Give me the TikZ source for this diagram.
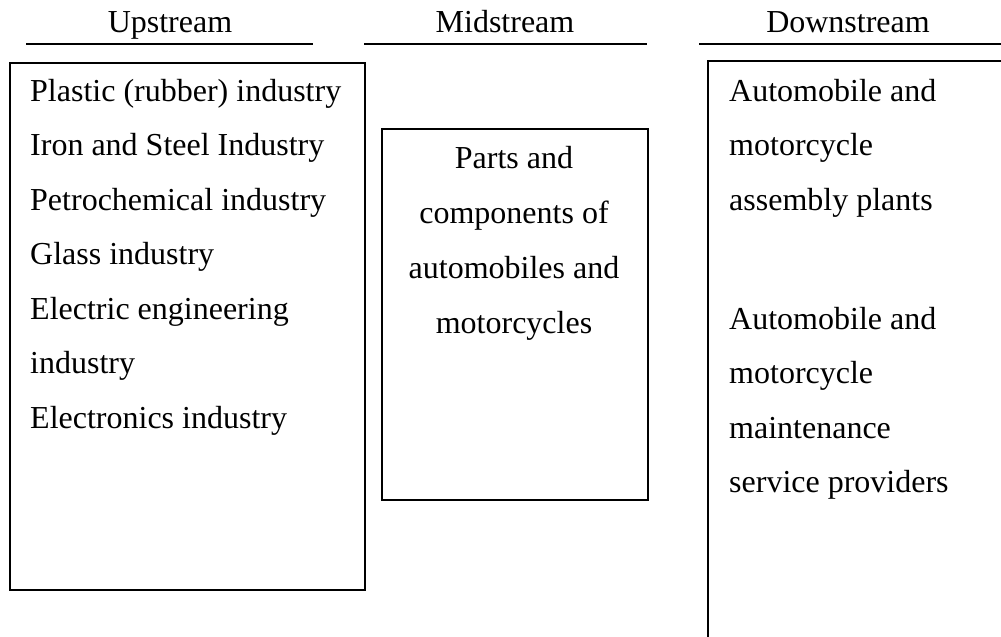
\documentclass[tikz,border=0pt]{standalone}
\usepackage{fontspec}
\setmainfont{Liberation Serif}
\begin{document}
\begin{tikzpicture}[x=1pt,y=-1pt,
  txt/.style={inner sep=0pt,font=\fontsize{32}{38}\selectfont},
  lt/.style={txt,anchor=base west},
  ct/.style={txt,anchor=base},
  hdrline/.style={line width=2pt},
  boxline/.style={line width=1.8pt}]
\useasboundingbox (0,0) rectangle (1001,637);
% headers
\node[ct] (hup) at (170,32) {Upstream};
\node[ct] (hmid) at (505,32) {Midstream};
\node[ct] (hdown) at (848,32) {Downstream};
\coordinate (u1) at (26,44); \coordinate (u2) at (313,44);
\coordinate (m1) at (364,44); \coordinate (m2) at (647,44);
\coordinate (d1) at (699,44); \coordinate (d2) at (1001,44);
\draw[hdrline] (u1) -- (u2);
\draw[hdrline] (m1) -- (m2);
\draw[hdrline] (d1) -- (d2);
% boxes
\node[boxline,draw,anchor=north west,inner sep=0pt,minimum width=355pt,minimum height=527pt] (upbox) at (9,62) {};
\node[boxline,draw,anchor=north west,inner sep=0pt,minimum width=266pt,minimum height=371pt] (midbox) at (381,128) {};
\coordinate (r1) at (1002,61); \coordinate (r2) at (708,61); \coordinate (r3) at (708,638);
\draw[boxline] (r1) -- (r2) -- (r3);
% upstream text
\node[lt] (a1) at (30,101) {Plastic (rubber) industry};
\node[lt] (a2) at (30,155.5) {Iron and Steel Industry};
\node[lt] (a3) at (30,210) {Petrochemical industry};
\node[lt] (a4) at (30,264.5) {Glass industry};
\node[lt] (a5) at (30,319) {Electric engineering};
\node[lt] (a6) at (30,373.5) {industry};
\node[lt] (a7) at (30,428) {Electronics industry};
% midstream text
\node[ct] (b1) at (514,168) {Parts and};
\node[ct] (b2) at (514,223) {components of};
\node[ct] (b3) at (514,278) {automobiles and};
\node[ct] (b4) at (514,333) {motorcycles};
% downstream text
\node[lt] (c1) at (729,101) {Automobile and};
\node[lt] (c2) at (729,155.5) {motorcycle};
\node[lt] (c3) at (729,210) {assembly plants};
\node[lt] (c4) at (729,329) {Automobile and};
\node[lt] (c5) at (729,383.5) {motorcycle};
\node[lt] (c6) at (729,438) {maintenance};
\node[lt] (c7) at (729,492.5) {service providers};
\end{tikzpicture}
\end{document}
